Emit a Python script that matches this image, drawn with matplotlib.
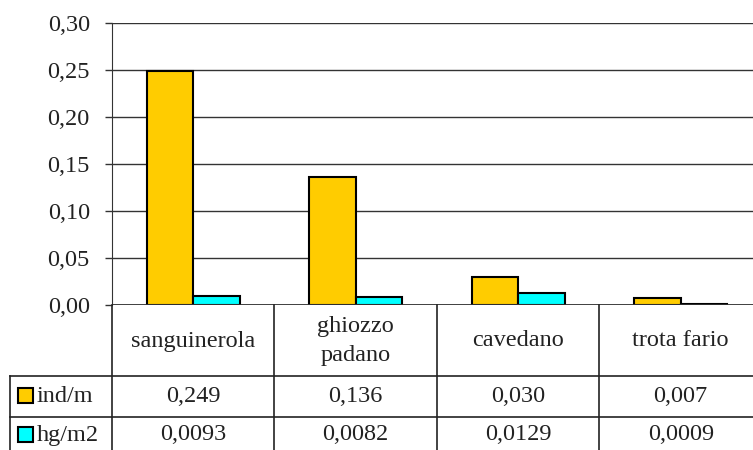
import matplotlib.pyplot as plt
from matplotlib.patches import Rectangle

categories = ["sanguinerola", "ghiozzo\npadano", "cavedano", "trota fario"]
series_names = ["ind/m", "hg/m2"]
ind_m = [0.249, 0.136, 0.030, 0.007]
hg_m2 = [0.0093, 0.0082, 0.0129, 0.0009]
yticks = [0.0, 0.05, 0.10, 0.15, 0.20, 0.25, 0.30]

colors = ["#FFCC00", "#00FFFF"]
W, H = 753, 450
plt.rcParams['font.family'] = ['Liberation Serif', 'DejaVu Serif']
FS = 17.5

fig = plt.figure(figsize=(W / 100, H / 100), dpi=100)

# plot area in pixel terms
left, right, top, bottom = 112, 762, 23, 305
ax = fig.add_axes([left / W, 1 - bottom / H, (right - left) / W, (bottom - top) / H])

n = len(categories)
xs = list(range(n))
bw = 0.287
ax.bar([x - bw / 2 for x in xs], ind_m, bw, color=colors[0], edgecolor="black", linewidth=1.5, zorder=3)
ax.bar([x + bw / 2 for x in xs], hg_m2, bw, color=colors[1], edgecolor="black", linewidth=1.5, zorder=3)

ax.set_xlim(-0.5, n - 0.5)
ax.set_ylim(0, 0.30)
ax.set_yticks(yticks)
ax.set_yticklabels([f"{t:.2f}".replace(".", ",") for t in yticks], fontsize=FS, color="#222222")
ax.yaxis.grid(True, color="#333333", linewidth=1)
ax.set_axisbelow(True)
ax.set_xticks([])
ax.tick_params(axis="y", length=5, width=1, color="#333333", pad=11)
for s in ["top", "right", "bottom"]:
    ax.spines[s].set_visible(False)
ax.spines["left"].set_color("#333333")
ax.axhline(0, color="#333333", linewidth=2, zorder=4)

# data table drawn in pixel coordinates
tb = fig.add_axes([0, 0, 1, 1])
tb.set_xlim(0, W)
tb.set_ylim(H, 0)
tb.axis("off")
tb.patch.set_alpha(0)

colw = (right - left) / n
lc = "#222222"
for i in range(n + 1):
    x = left + i * colw
    tb.plot([x, x], [bottom, H], color=lc, linewidth=1.2)
tb.plot([10, 10], [376, H], color=lc, linewidth=1.2)
for y in [376, 417]:
    tb.plot([10, W], [y, y], color=lc, linewidth=1.2)

for i, c in enumerate(categories):
    tb.text(left + (i + 0.5) * colw, 341, c, ha="center", va="center", fontsize=FS,
            linespacing=1.45, color="#222222")

rows = [
    [f"{v:.3f}".replace(".", ",") for v in ind_m],
    [f"{v:.4f}".replace(".", ",") for v in hg_m2],
]
row_y = [396, 435]
for r, (name, vals, yc) in enumerate(zip(series_names, rows, row_y)):
    tb.add_patch(Rectangle((18, yc - 8), 15, 15, facecolor=colors[r], edgecolor="black", linewidth=1.5))
    tb.text(37, yc, name, ha="left", va="center", fontsize=FS, color="#222222")
    for i, v in enumerate(vals):
        tb.text(left + (i + 0.5) * colw, yc, v, ha="center", va="center", fontsize=FS, color="#222222")

fig.savefig("out.png", dpi=100)
